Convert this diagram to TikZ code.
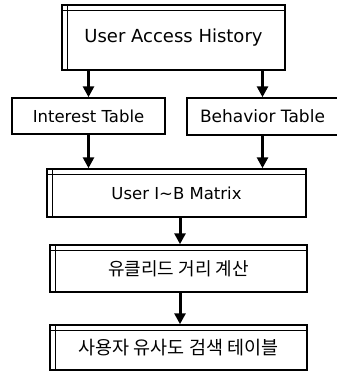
\documentclass[tikz,border=0pt]{standalone}
\usepackage{fontspec}
\setmainfont{DejaVu Sans}
\newfontfamily\krfont{Noto Sans CJK KR}
\usetikzlibrary{arrows.meta,positioning}

\tikzset{
  box/.style={draw=black, line width=1.5pt, rectangle, inner sep=0pt, fill=white},
  framebox/.style={box,
    path picture={
      \draw[line width=0.9pt]
        ([xshift=5.5pt]path picture bounding box.north west) --
        ([xshift=5.5pt]path picture bounding box.south west);
      \draw[line width=0.9pt]
        ([yshift=-5pt]path picture bounding box.north west) --
        ([yshift=-5pt]path picture bounding box.north east);
    }},
  flow/.style={line width=3pt, -{Triangle[width=11pt,length=11pt]}},
  en/.style={font=\fontsize{#1}{#1}\selectfont},
  kr/.style={font=\krfont\fontsize{#1}{#1}\selectfont}
}

\begin{document}
\begin{tikzpicture}[x=1pt, y=-1pt]
  \useasboundingbox (0,0) rectangle (337,372);

  % processing stages
  \node[framebox, minimum width=223pt, minimum height=65pt, en=18pt]
    (hist) at (173.5,37.5) {\raisebox{-1pt}{User Access History}};
  \node[box, minimum width=153pt, minimum height=36pt, en=16.5pt]
    (int) at (88.5,116) {Interest Table};
  \node[box, minimum width=151pt, minimum height=37pt, en=17pt]
    (beh) at (262.5,116.5) {Behavior Table};
  \node[framebox, minimum width=259pt, minimum height=48pt, en=16.5pt]
    (mat) at (176.5,193) {\raisebox{-3pt}{User I\textasciitilde B Matrix}};
  \node[framebox, minimum width=257pt, minimum height=47pt, kr=18pt]
    (dist) at (178.5,268.5) {유클리드 거리 계산};
  \node[framebox, minimum width=257pt, minimum height=45pt, kr=18.5pt]
    (sim) at (178.5,347.5) {사용자 유사도 검색 테이블};

  % connectors
  \draw[flow] (hist.south -| int.north) -- (int.north);
  \draw[flow] (hist.south -| beh.north) -- (beh.north);
  \draw[flow] (int.south) -- (int.south |- mat.north);
  \draw[flow] (beh.south) -- (beh.south |- mat.north);
  \draw[flow] ([xshift=3.5pt]mat.south) -- ([xshift=1.5pt]dist.north);
  \draw[flow] ([xshift=1.5pt]dist.south) -- ([xshift=1.5pt]sim.north);
\end{tikzpicture}
\end{document}
